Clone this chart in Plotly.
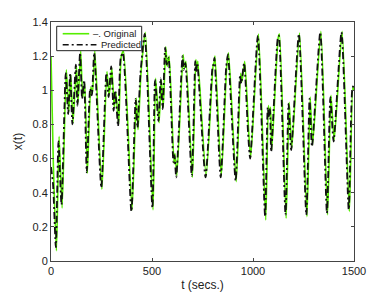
import plotly.graph_objects as go

# Original series (t, x)
orig_t = [0, 12, 27, 40, 55, 76, 88, 98, 109, 126, 134, 147, 157, 167, 180, 197, 205, 217, 252,
          277, 288, 301, 313, 321, 335, 348, 359, 401, 422, 431, 446, 467, 505, 518, 535, 546, 556,
          568, 576, 585, 609, 614, 623, 654, 660, 668, 700, 717, 721, 727, 768, 803, 807, 812, 843,
          870, 879, 917, 939, 945, 959, 979, 989, 1027, 1063, 1076, 1082, 1087, 1093, 1125, 1131,
          1164, 1179, 1192, 1230, 1267, 1283, 1295, 1336, 1369, 1386, 1402, 1441, 1477, 1494, 1500]
orig_x = [1.20, 0.55, 0.06, 0.73, 0.31, 1.12, 0.875, 1.09, 0.81, 1.14, 0.93, 1.23, 0.96, 1.04, 0.515,
          1.02, 0.98, 1.23, 0.42, 1.11, 0.97, 1.13, 0.90, 0.99, 0.80, 1.20, 1.23, 0.30, 0.955, 0.77,
          1.11, 1.34, 0.30, 1.07, 0.81, 1.06, 0.90, 1.255, 1.14, 1.20, 0.57, 0.63, 0.50, 1.21, 1.13,
          1.17, 0.49, 1.18, 1.12, 1.17, 0.50, 1.15, 1.16, 1.20, 0.50, 1.14, 1.22, 0.465, 1.10, 1.05,
          1.17, 0.75, 0.61, 1.33, 0.24, 0.91, 0.85, 0.90, 0.65, 1.31, 1.33, 0.25, 0.93, 0.66, 1.335,
          0.26, 0.96, 0.68, 1.345, 0.27, 0.97, 0.71, 1.345, 0.29, 1.02, 1.00]

# Predicted series (t, x)
pred_t = [0, 10, 24, 37, 52, 73, 85, 95, 106, 123, 131, 144, 154, 164, 177, 194, 202, 214, 249,
          274, 285, 298, 310, 318, 332, 345, 356, 398, 419, 428, 443, 464, 502, 515, 532, 543, 553,
          565, 573, 582, 606, 611, 620, 651, 657, 665, 697, 714, 718, 724, 765, 800, 804, 809, 840,
          867, 876, 914, 936, 942, 956, 976, 986, 1024, 1060, 1073, 1079, 1084, 1090, 1122, 1128,
          1161, 1176, 1189, 1227, 1264, 1280, 1292, 1333, 1366, 1383, 1399, 1438, 1474, 1491, 1500]
pred_x = [0.55, 0.45, 0.08, 0.70, 0.33, 1.10, 0.86, 1.10, 0.80, 1.15, 0.91, 1.22, 0.95, 1.06, 0.52,
          1.01, 0.97, 1.22, 0.43, 1.10, 0.96, 1.14, 0.88, 1.00, 0.79, 1.19, 1.22, 0.29, 0.95, 0.78,
          1.10, 1.33, 0.31, 1.06, 0.82, 1.07, 0.89, 1.25, 1.15, 1.19, 0.58, 0.62, 0.49, 1.20, 1.12,
          1.16, 0.50, 1.17, 1.11, 1.16, 0.49, 1.14, 1.15, 1.19, 0.49, 1.13, 1.21, 0.47, 1.09, 1.04,
          1.16, 0.74, 0.60, 1.32, 0.26, 0.90, 0.84, 0.89, 0.64, 1.30, 1.32, 0.27, 0.92, 0.65, 1.33,
          0.27, 0.95, 0.67, 1.34, 0.28, 0.96, 0.70, 1.34, 0.30, 1.00, 1.04]

x_ticks = [0, 500, 1000, 1500]
y_ticks = [0, 0.2, 0.4, 0.6, 0.8, 1, 1.2, 1.4]
y_tick_text = ["0", "0.2", "0.4", "0.6", "0.8", "1", "1.2", "1.4"]
legend_labels = ["–. Original", "Predicted"]

GREEN = "#55ee00"
DARK = "#111111"
DASH = "7px,3px,2px,3px"
FONT = "Liberation Sans, Arial, sans-serif"

fig = go.Figure()
fig.add_trace(go.Scatter(x=orig_t, y=orig_x, mode="lines", name=legend_labels[0],
                         line=dict(color=GREEN, width=1.6, shape="spline", smoothing=0.6)))
fig.add_trace(go.Scatter(x=pred_t, y=pred_x, mode="lines", name=legend_labels[1],
                         line=dict(color=DARK, width=1.8, dash=DASH,
                                   shape="spline", smoothing=0.6)))

axis_common = dict(showline=True, linecolor="#444444", linewidth=1, mirror="ticks",
                   ticks="inside", ticklen=3, tickcolor="#444444", showgrid=False, zeroline=False,
                   automargin=False,
                   tickfont=dict(family=FONT, size=11, color="#222222"))
fig.update_xaxes(range=[0, 1500], tickvals=x_ticks, ticktext=[str(v) for v in x_ticks],
                 title=dict(text="t (secs.)", font=dict(family=FONT, size=12, color="#222222"), standoff=4),
                 **axis_common)
fig.update_yaxes(range=[0, 1.4], tickvals=y_ticks, ticktext=y_tick_text,
                 title=dict(text="x(t)", font=dict(family=FONT, size=12, color="#222222"), standoff=7),
                 **axis_common)

# Manual legend box (decoration)
shapes = [
    dict(type="rect", xref="paper", yref="paper", x0=0.0188, x1=0.2993, y0=0.880, y1=0.982,
         line=dict(color="#222222", width=1), fillcolor="white", layer="above"),
    dict(type="line", xref="paper", yref="paper", x0=0.0386, x1=0.126, y0=0.951, y1=0.951,
         line=dict(color=GREEN, width=1.6), layer="above"),
    dict(type="line", xref="paper", yref="paper", x0=0.0386, x1=0.150, y0=0.905, y1=0.905,
         line=dict(color=DARK, width=1.6, dash="6px,3px,2px,3px"), layer="above"),
]
annotations = [
    dict(xref="paper", yref="paper", x=0.1386, y=0.951, text=legend_labels[0], showarrow=False,
         xanchor="left", yanchor="middle", xshift=-2, font=dict(family=FONT, size=9.5, color="#222222")),
    dict(xref="paper", yref="paper", x=0.165, y=0.905, text=legend_labels[1], showarrow=False,
         xanchor="left", yanchor="middle", xshift=-2, font=dict(family=FONT, size=9.5, color="#222222")),
]

fig.update_layout(
    width=390, height=294,
    margin=dict(l=43, r=44, t=14, b=41),
    paper_bgcolor="white", plot_bgcolor="white",
    showlegend=False,
    shapes=shapes, annotations=annotations,
)
fig.write_html("out.html")
